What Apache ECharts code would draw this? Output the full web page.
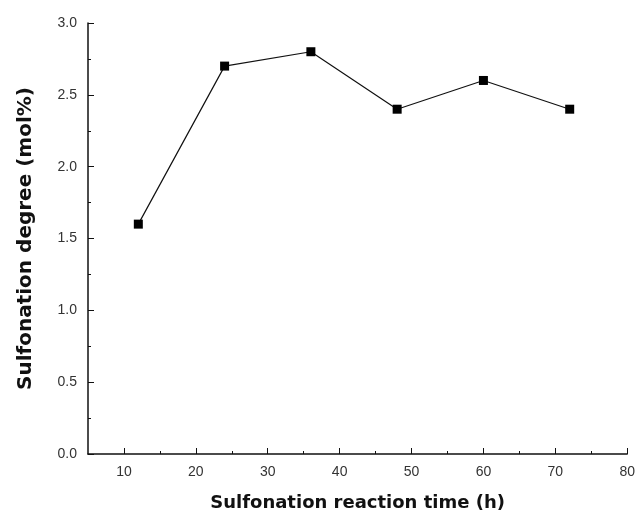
<!DOCTYPE html>
<html><head><meta charset="utf-8">
<script src="https://cdn.jsdelivr.net/npm/echarts@6/dist/echarts.min.js"></script>
<style>html,body{margin:0;padding:0;background:#fff}#c{width:638px;height:517px}</style>
</head><body><div id="c"></div>
<script>
var times = [12, 24, 36, 48, 60, 72];
var degrees = [1.6, 2.7, 2.8, 2.4, 2.6, 2.4];
var xMajorTicks = [10, 20, 30, 40, 50, 60, 70, 80];
var xMinorTicks = [15, 25, 35, 45, 55, 65, 75];
var xTitle = 'Sulfonation reaction time (h)';
var yTitle = 'Sulfonation degree (mol%)';

var chart = echarts.init(document.getElementById('c'));
var data = times.map(function (t, i) { return [t, degrees[i]]; });
var font = 'Liberation Sans, Arial, sans-serif';
var titleFont = 'DejaVu Sans, sans-serif';
chart.setOption({
  animation: false,
  grid: { left: 88, top: 23, right: 9, bottom: 62 },
  xAxis: [{
    type: 'value', min: 5, max: 80,
    name: xTitle, nameLocation: 'middle', nameGap: 40,
    nameTextStyle: { fontFamily: titleFont, fontWeight: 'bold', fontSize: 18, color: '#111' },
    axisLine: { lineStyle: { color: '#111', width: 1.5 } },
    axisTick: { inside: true, length: 6, customValues: xMajorTicks, lineStyle: { color: '#111' } },
    axisLabel: { customValues: xMajorTicks, fontFamily: font, fontSize: 14, color: '#333', margin: 11 },
    splitLine: { show: false }
  }, {
    type: 'value', min: 5, max: 80, position: 'bottom',
    axisLine: { show: false },
    axisTick: { inside: true, length: 3, customValues: xMinorTicks, lineStyle: { color: '#111' } },
    axisLabel: { show: false },
    splitLine: { show: false }
  }],
  yAxis: {
    type: 'value', min: 0, max: 3, interval: 0.5,
    name: yTitle, nameLocation: 'middle', nameGap: 52,
    nameTextStyle: { fontFamily: titleFont, fontWeight: 'bold', fontSize: 20, color: '#111' },
    axisLine: { show: true, lineStyle: { color: '#111', width: 1.5 } },
    axisTick: { show: true, inside: true, length: 6, lineStyle: { color: '#111' } },
    minorTick: { show: true, splitNumber: 2, length: 3, lineStyle: { color: '#111' } },
    axisLabel: { fontFamily: font, fontSize: 14, color: '#333', margin: 11,
      formatter: function (v) { return v.toFixed(1); } },
    splitLine: { show: false }
  },
  series: [{
    type: 'line', data: data, xAxisIndex: 0,
    symbol: 'rect', symbolSize: 9,
    lineStyle: { color: '#111', width: 1.2 },
    itemStyle: { color: '#000' }
  }]
});
</script></body></html>
